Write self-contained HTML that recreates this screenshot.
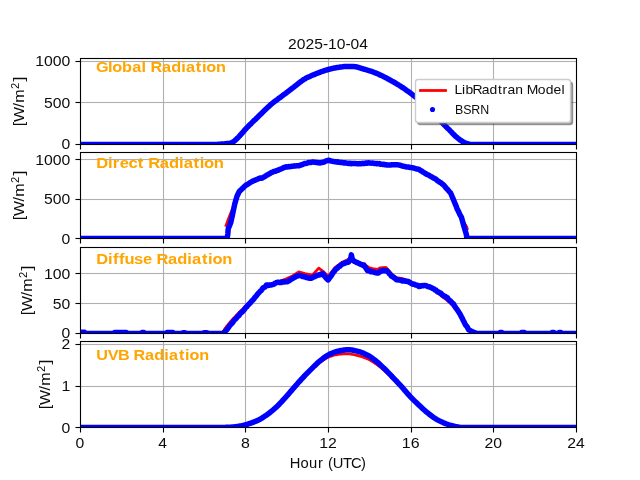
<!DOCTYPE html>
<html><head><meta charset="utf-8"><title>Radiation 2025-10-04</title>
<style>html,body{margin:0;padding:0;background:#fff}svg{display:block}text{font-family:"Liberation Sans",sans-serif}</style></head><body>
<svg width="640" height="480" viewBox="0 0 640 480">
<rect width="640" height="480" fill="#fff"/>
<defs>
<clipPath id="c0"><rect x="80.5" y="58.5" width="496" height="86"/></clipPath>
<clipPath id="c1"><rect x="80.5" y="152.5" width="496" height="86"/></clipPath>
<clipPath id="c2"><rect x="80.5" y="247.5" width="496" height="86"/></clipPath>
<clipPath id="c3"><rect x="80.5" y="341.5" width="496" height="86"/></clipPath>
<filter id="gs" filterUnits="userSpaceOnUse" x="0" y="0" width="640" height="480"><feOffset dx="0" dy="0"/></filter>
</defs>
<g>
<rect x="162.945" y="59" width="1.11" height="85" fill="#b0b0b0"/>
<rect x="244.945" y="59" width="1.11" height="85" fill="#b0b0b0"/>
<rect x="327.945" y="59" width="1.11" height="85" fill="#b0b0b0"/>
<rect x="410.945" y="59" width="1.11" height="85" fill="#b0b0b0"/>
<rect x="492.945" y="59" width="1.11" height="85" fill="#b0b0b0"/>
<rect x="81" y="60.945" width="495" height="1.11" fill="#b0b0b0"/>
<rect x="81" y="101.945" width="495" height="1.11" fill="#b0b0b0"/>
<g clip-path="url(#c0)" fill="none" stroke-linejoin="round">
<path d="M80.00 144.50 L81.00 144.50 L82.00 144.50 L83.00 144.50 L84.00 144.50 L85.00 144.50 L86.00 144.50 L87.00 144.50 L88.00 144.50 L89.00 144.50 L90.00 144.50 L91.00 144.50 L92.00 144.50 L93.00 144.50 L94.00 144.50 L95.00 144.50 L96.00 144.50 L97.00 144.50 L98.00 144.50 L99.00 144.50 L100.00 144.50 L101.00 144.50 L102.00 144.50 L103.00 144.50 L104.00 144.50 L105.00 144.50 L106.00 144.50 L107.00 144.50 L108.00 144.50 L109.00 144.50 L110.00 144.50 L111.00 144.50 L112.00 144.50 L113.00 144.50 L114.00 144.50 L115.00 144.50 L116.00 144.50 L117.00 144.50 L118.00 144.50 L119.00 144.50 L120.00 144.50 L121.00 144.50 L122.00 144.50 L123.00 144.50 L124.00 144.50 L125.00 144.50 L126.00 144.50 L127.00 144.50 L128.00 144.50 L129.00 144.50 L130.00 144.50 L131.00 144.50 L132.00 144.50 L133.00 144.50 L134.00 144.50 L135.00 144.50 L136.00 144.50 L137.00 144.50 L138.00 144.50 L139.00 144.50 L140.00 144.50 L141.00 144.50 L142.00 144.50 L143.00 144.50 L144.00 144.50 L145.00 144.50 L146.00 144.50 L147.00 144.50 L148.00 144.50 L149.00 144.50 L150.00 144.50 L151.00 144.50 L152.00 144.50 L153.00 144.50 L154.00 144.50 L155.00 144.50 L156.00 144.50 L157.00 144.50 L158.00 144.50 L159.00 144.50 L160.00 144.50 L161.00 144.50 L162.00 144.50 L163.00 144.50 L164.00 144.50 L165.00 144.50 L166.00 144.50 L167.00 144.50 L168.00 144.50 L169.00 144.50 L170.00 144.50 L171.00 144.50 L172.00 144.50 L173.00 144.50 L174.00 144.50 L175.00 144.50 L176.00 144.50 L177.00 144.50 L178.00 144.50 L179.00 144.50 L180.00 144.50 L181.00 144.50 L182.00 144.50 L183.00 144.50 L184.00 144.50 L185.00 144.50 L186.00 144.50 L187.00 144.50 L188.00 144.50 L189.00 144.50 L190.00 144.50 L191.00 144.50 L192.00 144.50 L193.00 144.50 L194.00 144.50 L195.00 144.50 L196.00 144.50 L197.00 144.50 L198.00 144.50 L199.00 144.50 L200.00 144.50 L201.00 144.50 L202.00 144.50 L203.00 144.50 L204.00 144.50 L205.00 144.50 L206.00 144.50 L207.00 144.50 L208.00 144.50 L209.00 144.50 L210.00 144.50 L211.00 144.50 L212.00 144.50 L213.00 144.50 L214.00 144.50 L215.00 144.49 L216.00 144.45 L217.00 144.39 L218.00 144.32 L219.00 144.25 L220.00 144.17 L221.00 144.10 L222.00 144.03 L223.00 143.96 L224.00 143.88 L225.00 143.79 L226.00 143.70 L227.00 143.60 L228.00 143.50 L229.00 143.37 L230.00 143.20 L231.00 142.90 L232.00 142.45 L233.00 141.90 L234.00 141.27 L235.00 140.47 L236.00 139.55 L237.00 138.60 L238.00 137.62 L239.00 136.58 L240.00 135.49 L241.00 134.37 L242.00 133.23 L243.00 132.08 L244.00 130.94 L245.00 129.82 L246.00 128.73 L247.00 127.68 L248.00 126.65 L249.00 125.64 L250.00 124.63 L251.00 123.63 L252.00 122.64 L253.00 121.66 L254.00 120.68 L255.00 119.71 L256.00 118.74 L257.00 117.77 L258.00 116.81 L259.00 115.84 L260.00 114.87 L261.00 113.89 L262.00 112.91 L263.00 111.93 L264.00 110.94 L265.00 109.97 L266.00 109.00 L267.00 108.04 L268.00 107.11 L269.00 106.19 L270.00 105.29 L271.00 104.42 L272.00 103.59 L273.00 102.78 L274.00 102.00 L275.00 101.23 L276.00 100.49 L277.00 99.75 L278.00 99.02 L279.00 98.29 L280.00 97.55 L281.00 96.80 L282.00 96.04 L283.00 95.29 L284.00 94.54 L285.00 93.78 L286.00 93.03 L287.00 92.28 L288.00 91.52 L289.00 90.76 L290.00 90.00 L291.00 89.23 L292.00 88.46 L293.00 87.68 L294.00 86.90 L295.00 86.12 L296.00 85.36 L297.00 84.60 L298.00 83.84 L299.00 83.06 L300.00 82.28 L301.00 81.52 L302.00 80.77 L303.00 80.06 L304.00 79.40 L305.00 78.80 L306.00 78.25 L307.00 77.72 L308.00 77.22 L309.00 76.74 L310.00 76.28 L311.00 75.83 L312.00 75.40 L313.00 74.98 L314.00 74.57 L315.00 74.17 L316.00 73.78 L317.00 73.39 L318.00 73.01 L319.00 72.63 L320.00 72.25 L321.00 71.88 L322.00 71.52 L323.00 71.17 L324.00 70.83 L325.00 70.50 L326.00 70.19 L327.00 69.89 L328.00 69.60 L329.00 69.33 L330.00 69.08 L331.00 68.83 L332.00 68.59 L333.00 68.36 L334.00 68.14 L335.00 67.93 L336.00 67.75 L337.00 67.58 L338.00 67.42 L339.00 67.27 L340.00 67.11 L341.00 66.96 L342.00 66.82 L343.00 66.70 L344.00 66.60 L345.00 66.53 L346.00 66.50 L347.00 66.50 L348.00 66.50 L349.00 66.50 L350.00 66.50 L351.00 66.50 L352.00 66.50 L353.00 66.51 L354.00 66.57 L355.00 66.69 L356.00 66.86 L357.00 67.07 L358.00 67.31 L359.00 67.59 L360.00 67.88 L361.00 68.18 L362.00 68.50 L363.00 68.81 L364.00 69.11 L365.00 69.40 L366.00 69.68 L367.00 69.98 L368.00 70.29 L369.00 70.61 L370.00 70.94 L371.00 71.28 L372.00 71.63 L373.00 72.00 L374.00 72.37 L375.00 72.75 L376.00 73.14 L377.00 73.55 L378.00 73.96 L379.00 74.39 L380.00 74.84 L381.00 75.31 L382.00 75.79 L383.00 76.28 L384.00 76.79 L385.00 77.31 L386.00 77.84 L387.00 78.37 L388.00 78.91 L389.00 79.45 L390.00 80.00 L391.00 80.55 L392.00 81.11 L393.00 81.68 L394.00 82.25 L395.00 82.84 L396.00 83.43 L397.00 84.03 L398.00 84.64 L399.00 85.26 L400.00 85.89 L401.00 86.53 L402.00 87.17 L403.00 87.83 L404.00 88.50 L405.00 89.18 L406.00 89.87 L407.00 90.57 L408.00 91.29 L409.00 92.01 L410.00 92.75 L411.00 93.49 L412.00 94.25 L413.00 95.02 L414.00 95.80 L415.00 96.58 L416.00 97.38 L417.00 98.19 L418.00 99.01 L419.00 99.85 L420.00 100.69 L421.00 101.54 L422.00 102.41 L423.00 103.28 L424.00 104.17 L425.00 105.06 L426.00 105.96 L427.00 106.88 L428.00 107.80 L429.00 108.74 L430.00 109.69 L431.00 110.66 L432.00 111.65 L433.00 112.65 L434.00 113.67 L435.00 114.70 L436.00 115.74 L437.00 116.80 L438.00 117.89 L439.00 119.02 L440.00 120.17 L441.00 121.33 L442.00 122.48 L443.00 123.59 L444.00 124.66 L445.00 125.69 L446.00 126.68 L447.00 127.66 L448.00 128.64 L449.00 129.61 L450.00 130.60 L451.00 131.62 L452.00 132.68 L453.00 133.74 L454.00 134.77 L455.00 135.76 L456.00 136.68 L457.00 137.53 L458.00 138.34 L459.00 139.12 L460.00 139.86 L461.00 140.55 L462.00 141.20 L463.00 141.80 L464.00 142.37 L465.00 142.89 L466.00 143.30 L467.00 143.62 L468.00 143.89 L469.00 144.10 L470.00 144.28 L471.00 144.44 L472.00 144.50 L473.00 144.50 L474.00 144.50 L475.00 144.50 L476.00 144.50 L477.00 144.50 L478.00 144.50 L479.00 144.50 L480.00 144.50 L481.00 144.50 L482.00 144.50 L483.00 144.50 L484.00 144.50 L485.00 144.50 L486.00 144.50 L487.00 144.50 L488.00 144.50 L489.00 144.50 L490.00 144.50 L491.00 144.50 L492.00 144.50 L493.00 144.50 L494.00 144.50 L495.00 144.50 L496.00 144.50 L497.00 144.50 L498.00 144.50 L499.00 144.50 L500.00 144.50 L501.00 144.50 L502.00 144.50 L503.00 144.50 L504.00 144.50 L505.00 144.50 L506.00 144.50 L507.00 144.50 L508.00 144.50 L509.00 144.50 L510.00 144.50 L511.00 144.50 L512.00 144.50 L513.00 144.50 L514.00 144.50 L515.00 144.50 L516.00 144.50 L517.00 144.50 L518.00 144.50 L519.00 144.50 L520.00 144.50 L521.00 144.50 L522.00 144.50 L523.00 144.50 L524.00 144.50 L525.00 144.50 L526.00 144.50 L527.00 144.50 L528.00 144.50 L529.00 144.50 L530.00 144.50 L531.00 144.50 L532.00 144.50 L533.00 144.50 L534.00 144.50 L535.00 144.50 L536.00 144.50 L537.00 144.50 L538.00 144.50 L539.00 144.50 L540.00 144.50 L541.00 144.50 L542.00 144.50 L543.00 144.50 L544.00 144.50 L545.00 144.50 L546.00 144.50 L547.00 144.50 L548.00 144.50 L549.00 144.50 L550.00 144.50 L551.00 144.50 L552.00 144.50 L553.00 144.50 L554.00 144.50 L555.00 144.50 L556.00 144.50 L557.00 144.50 L558.00 144.50 L559.00 144.50 L560.00 144.50 L561.00 144.50 L562.00 144.50 L563.00 144.50 L564.00 144.50 L565.00 144.50 L566.00 144.50 L567.00 144.50 L568.00 144.50 L569.00 144.50 L570.00 144.50 L571.00 144.50 L572.00 144.50 L573.00 144.50 L574.00 144.50 L575.00 144.50 L576.00 144.50" stroke="#ff0000" stroke-width="2.78" stroke-linecap="butt"/>
<path d="M80.00 144.50 L81.00 144.50 L82.00 144.50 L83.00 144.50 L84.00 144.50 L85.00 144.50 L86.00 144.50 L87.00 144.50 L88.00 144.50 L89.00 144.50 L90.00 144.50 L91.00 144.50 L92.00 144.50 L93.00 144.50 L94.00 144.50 L95.00 144.50 L96.00 144.50 L97.00 144.50 L98.00 144.50 L99.00 144.50 L100.00 144.50 L101.00 144.50 L102.00 144.50 L103.00 144.50 L104.00 144.50 L105.00 144.50 L106.00 144.50 L107.00 144.50 L108.00 144.50 L109.00 144.50 L110.00 144.50 L111.00 144.50 L112.00 144.50 L113.00 144.50 L114.00 144.50 L115.00 144.50 L116.00 144.50 L117.00 144.50 L118.00 144.50 L119.00 144.50 L120.00 144.50 L121.00 144.50 L122.00 144.50 L123.00 144.50 L124.00 144.50 L125.00 144.50 L126.00 144.50 L127.00 144.50 L128.00 144.50 L129.00 144.50 L130.00 144.50 L131.00 144.50 L132.00 144.50 L133.00 144.50 L134.00 144.50 L135.00 144.50 L136.00 144.50 L137.00 144.50 L138.00 144.50 L139.00 144.50 L140.00 144.50 L141.00 144.50 L142.00 144.50 L143.00 144.50 L144.00 144.50 L145.00 144.50 L146.00 144.50 L147.00 144.50 L148.00 144.50 L149.00 144.50 L150.00 144.50 L151.00 144.50 L152.00 144.50 L153.00 144.50 L154.00 144.50 L155.00 144.50 L156.00 144.50 L157.00 144.50 L158.00 144.50 L159.00 144.50 L160.00 144.50 L161.00 144.50 L162.00 144.50 L163.00 144.50 L164.00 144.50 L165.00 144.50 L166.00 144.50 L167.00 144.50 L168.00 144.50 L169.00 144.50 L170.00 144.50 L171.00 144.50 L172.00 144.50 L173.00 144.50 L174.00 144.50 L175.00 144.50 L176.00 144.50 L177.00 144.50 L178.00 144.50 L179.00 144.50 L180.00 144.50 L181.00 144.50 L182.00 144.50 L183.00 144.50 L184.00 144.50 L185.00 144.50 L186.00 144.50 L187.00 144.50 L188.00 144.50 L189.00 144.50 L190.00 144.50 L191.00 144.50 L192.00 144.50 L193.00 144.50 L194.00 144.50 L195.00 144.50 L196.00 144.50 L197.00 144.50 L198.00 144.50 L199.00 144.50 L200.00 144.50 L201.00 144.50 L202.00 144.50 L203.00 144.50 L204.00 144.50 L205.00 144.50 L206.00 144.50 L207.00 144.50 L208.00 144.50 L209.00 144.50 L210.00 144.50 L211.00 144.50 L212.00 144.50 L213.00 144.50 L214.00 144.50 L215.00 144.49 L216.00 144.45 L217.00 144.39 L218.00 144.32 L219.00 144.25 L220.00 144.17 L221.00 144.10 L222.00 144.03 L223.00 143.96 L224.00 143.88 L225.00 143.79 L226.00 143.70 L227.00 143.60 L228.00 143.50 L229.00 143.37 L230.00 143.20 L231.00 142.90 L232.00 142.51 L232.50 142.19 L233.00 141.90 L233.50 141.59 L234.00 141.25 L234.50 140.86 L235.00 140.44 L235.50 139.96 L236.00 139.57 L236.50 139.11 L237.00 138.58 L237.50 138.10 L238.00 137.63 L238.50 137.10 L239.00 136.54 L239.50 135.99 L240.00 135.49 L240.50 134.95 L241.00 134.35 L241.50 133.78 L242.00 133.27 L242.50 132.69 L243.00 132.11 L243.50 131.58 L244.00 130.95 L244.50 130.31 L245.00 129.72 L245.50 129.19 L246.00 128.72 L246.50 128.19 L247.00 127.66 L247.50 127.16 L248.00 126.62 L248.50 126.09 L249.00 125.55 L249.50 125.04 L250.00 124.60 L250.50 124.20 L251.00 123.72 L251.50 123.18 L252.00 122.67 L252.50 122.17 L253.00 121.66 L253.50 121.12 L254.00 120.56 L254.50 120.10 L255.00 119.73 L255.50 119.33 L256.00 118.79 L256.50 118.28 L257.00 117.84 L257.50 117.34 L258.00 116.82 L258.50 116.33 L259.00 115.84 L259.50 115.31 L260.00 114.82 L260.50 114.37 L261.00 113.92 L261.50 113.44 L262.00 112.88 L262.50 112.33 L263.00 111.92 L263.50 111.49 L264.00 110.94 L264.50 110.39 L265.00 109.88 L265.50 109.41 L266.00 108.94 L266.50 108.50 L267.00 108.07 L267.50 107.60 L268.00 107.13 L268.50 106.74 L269.00 106.27 L269.50 105.77 L270.00 105.32 L270.50 104.89 L271.00 104.39 L271.50 103.94 L272.00 103.59 L272.50 103.24 L273.00 102.79 L273.50 102.35 L274.00 101.96 L274.50 101.58 L275.00 101.24 L275.50 100.94 L276.00 100.59 L276.50 100.19 L277.00 99.80 L277.50 99.42 L278.00 99.03 L278.50 98.64 L279.00 98.26 L279.50 97.95 L280.00 97.66 L280.50 97.25 L281.00 96.79 L281.50 96.38 L282.00 96.01 L282.50 95.67 L283.00 95.28 L283.50 94.87 L284.00 94.52 L284.50 94.18 L285.00 93.83 L285.50 93.48 L286.00 93.09 L286.50 92.66 L287.00 92.26 L287.50 91.93 L288.00 91.58 L288.50 91.16 L289.00 90.73 L289.50 90.36 L290.00 90.00 L290.50 89.59 L291.00 89.23 L291.50 88.89 L292.00 88.46 L292.50 88.04 L293.00 87.69 L293.50 87.30 L294.00 86.91 L294.50 86.55 L295.00 86.16 L295.50 85.78 L296.00 85.41 L296.50 85.00 L297.00 84.57 L297.50 84.18 L298.00 83.82 L298.50 83.43 L299.00 82.99 L299.50 82.58 L300.00 82.22 L300.50 81.81 L301.00 81.42 L301.50 81.10 L302.00 80.76 L302.50 80.41 L303.00 80.03 L303.50 79.65 L304.00 79.32 L304.50 79.05 L305.00 78.76 L305.50 78.48 L306.00 78.19 L306.50 77.92 L307.00 77.66 L307.50 77.40 L308.00 77.19 L308.50 77.03 L309.00 76.83 L309.50 76.57 L310.00 76.26 L310.50 76.08 L311.00 75.91 L311.50 75.66 L312.00 75.39 L312.50 75.22 L313.00 75.03 L313.50 74.76 L314.00 74.58 L314.50 74.41 L315.00 74.18 L315.50 73.96 L316.00 73.73 L316.50 73.52 L317.00 73.35 L317.50 73.19 L318.00 73.03 L318.50 72.84 L319.00 72.61 L319.50 72.44 L320.00 72.30 L320.50 72.08 L321.00 71.86 L321.50 71.69 L322.00 71.52 L322.50 71.36 L323.00 71.22 L323.50 71.06 L324.00 70.82 L324.50 70.57 L325.00 70.42 L325.50 70.34 L326.00 70.21 L326.50 70.08 L327.00 69.90 L327.50 69.74 L328.00 69.61 L328.50 69.42 L329.00 69.28 L329.50 69.21 L330.00 69.05 L330.50 68.96 L331.00 68.88 L331.50 68.70 L332.00 68.54 L332.50 68.45 L333.00 68.29 L333.50 68.16 L334.00 68.11 L334.50 68.07 L335.00 67.98 L335.50 67.87 L336.00 67.74 L336.50 67.62 L337.00 67.52 L337.50 67.48 L338.00 67.44 L338.50 67.36 L339.00 67.27 L339.50 67.16 L340.00 67.08 L340.50 67.02 L341.00 66.96 L341.50 66.91 L342.00 66.87 L342.50 66.83 L343.00 66.72 L343.50 66.61 L344.00 66.55 L344.50 66.56 L345.00 66.55 L345.50 66.50 L346.00 66.50 L346.50 66.53 L347.00 66.50 L347.50 66.50 L348.00 66.53 L348.50 66.53 L349.00 66.54 L349.50 66.58 L350.00 66.56 L350.50 66.50 L351.00 66.48 L351.50 66.50 L352.00 66.46 L352.50 66.45 L353.00 66.52 L353.50 66.58 L354.00 66.58 L354.50 66.62 L355.00 66.71 L355.50 66.77 L356.00 66.81 L356.50 66.90 L357.00 67.03 L357.50 67.17 L358.00 67.31 L358.50 67.46 L359.00 67.62 L359.50 67.76 L360.00 67.86 L360.50 67.98 L361.00 68.18 L361.50 68.39 L362.00 68.58 L362.50 68.67 L363.00 68.76 L363.50 68.97 L364.00 69.18 L364.50 69.28 L365.00 69.39 L365.50 69.53 L366.00 69.68 L366.50 69.85 L367.00 70.02 L367.50 70.20 L368.00 70.32 L368.50 70.44 L369.00 70.64 L369.50 70.81 L370.00 70.93 L370.50 71.04 L371.00 71.20 L371.50 71.44 L372.00 71.59 L372.50 71.68 L373.00 71.88 L373.50 72.15 L374.00 72.39 L374.50 72.58 L375.00 72.75 L375.50 72.89 L376.00 73.09 L376.50 73.36 L377.00 73.58 L377.50 73.79 L378.00 73.99 L378.50 74.15 L379.00 74.37 L379.50 74.68 L380.00 74.93 L380.50 75.14 L381.00 75.36 L381.50 75.56 L382.00 75.79 L382.50 76.00 L383.00 76.22 L383.50 76.54 L384.00 76.83 L384.50 77.06 L385.00 77.33 L385.50 77.60 L386.00 77.79 L386.50 78.01 L387.00 78.29 L387.50 78.61 L388.00 78.95 L388.50 79.21 L389.00 79.41 L389.50 79.74 L390.00 80.09 L390.50 80.29 L391.00 80.51 L391.50 80.84 L392.00 81.14 L392.50 81.40 L393.00 81.62 L393.50 81.91 L394.00 82.25 L394.50 82.52 L395.00 82.79 L395.50 83.16 L396.00 83.48 L396.50 83.73 L397.00 84.02 L397.50 84.33 L398.00 84.59 L398.50 84.89 L399.00 85.22 L399.50 85.53 L400.00 85.85 L400.50 86.16 L401.00 86.49 L401.50 86.88 L402.00 87.22 L402.50 87.47 L403.00 87.74 L403.50 88.09 L404.00 88.43 L404.50 88.80 L405.00 89.20 L405.50 89.60 L406.00 89.94 L406.50 90.28 L407.00 90.70 L407.50 91.06 L408.00 91.27 L408.50 91.55 L409.00 91.96 L409.50 92.33 L410.00 92.66 L410.50 93.07 L411.00 93.47 L411.50 93.85 L412.00 94.28 L412.50 94.68 L413.00 95.02 L413.50 95.39 L414.00 95.76 L414.50 96.15 L415.00 96.58 L415.50 96.99 L416.00 97.33 L416.50 97.70 L417.00 98.14 L417.50 98.55 L418.00 99.02 L418.50 99.50 L419.00 99.86 L419.50 100.19 L420.00 100.63 L420.50 101.13 L421.00 101.58 L421.50 102.01 L422.00 102.45 L422.50 102.85 L423.00 103.25 L423.50 103.62 L424.00 103.99 L424.50 104.49 L425.00 105.02 L425.50 105.51 L426.00 105.97 L426.50 106.43 L427.00 106.90 L427.50 107.36 L428.00 107.77 L428.50 108.21 L429.00 108.69 L429.50 109.22 L430.00 109.72 L430.50 110.23 L431.00 110.76 L431.50 111.23 L432.00 111.68 L432.50 112.15 L433.00 112.62 L433.50 113.15 L434.00 113.65 L434.50 114.15 L435.00 114.71 L435.50 115.23 L436.00 115.75 L436.50 116.29 L437.00 116.86 L437.50 117.40 L438.00 117.85 L438.50 118.37 L439.00 119.00 L439.50 119.62 L440.00 120.16 L440.50 120.73 L441.00 121.28 L441.50 121.79 L442.00 122.37 L442.50 122.97 L443.00 123.56 L443.50 124.08 L444.00 124.60 L444.50 125.11 L445.00 125.62 L445.50 126.14 L446.00 126.65 L446.50 127.13 L447.00 127.65 L447.50 128.17 L448.00 128.66 L448.50 129.15 L449.00 129.62 L449.50 130.09 L450.00 130.61 L450.50 131.14 L451.00 131.63 L451.50 132.13 L452.00 132.67 L452.50 133.27 L453.00 133.82 L453.50 134.28 L454.00 134.77 L454.50 135.28 L455.00 135.80 L455.50 136.28 L456.00 136.68 L456.50 137.00 L457.00 137.43 L457.50 137.88 L458.00 138.30 L458.50 138.69 L459.00 139.09 L459.50 139.54 L460.00 139.89 L460.50 140.12 L461.00 140.49 L461.50 140.88 L462.00 141.20 L462.50 141.46 L463.00 141.72 L463.50 142.03 L464.00 142.40 L464.50 142.69 L465.00 142.90 L465.50 143.06 L466.00 143.28 L466.50 143.46 L467.00 143.64 L467.50 143.76 L468.00 143.87 L468.50 143.97 L469.00 144.07 L469.50 144.20 L471.00 144.44 L472.00 144.50 L473.00 144.50 L474.00 144.50 L475.00 144.50 L476.00 144.50 L477.00 144.50 L478.00 144.50 L479.00 144.50 L480.00 144.50 L481.00 144.50 L482.00 144.50 L483.00 144.50 L484.00 144.50 L485.00 144.50 L486.00 144.50 L487.00 144.50 L488.00 144.50 L489.00 144.50 L490.00 144.50 L491.00 144.50 L492.00 144.50 L493.00 144.50 L494.00 144.50 L495.00 144.50 L496.00 144.50 L497.00 144.50 L498.00 144.50 L499.00 144.50 L500.00 144.50 L501.00 144.50 L502.00 144.50 L503.00 144.50 L504.00 144.50 L505.00 144.50 L506.00 144.50 L507.00 144.50 L508.00 144.50 L509.00 144.50 L510.00 144.50 L511.00 144.50 L512.00 144.50 L513.00 144.50 L514.00 144.50 L515.00 144.50 L516.00 144.50 L517.00 144.50 L518.00 144.50 L519.00 144.50 L520.00 144.50 L521.00 144.50 L522.00 144.50 L523.00 144.50 L524.00 144.50 L525.00 144.50 L526.00 144.50 L527.00 144.50 L528.00 144.50 L529.00 144.50 L530.00 144.50 L531.00 144.50 L532.00 144.50 L533.00 144.50 L534.00 144.50 L535.00 144.50 L536.00 144.50 L537.00 144.50 L538.00 144.50 L539.00 144.50 L540.00 144.50 L541.00 144.50 L542.00 144.50 L543.00 144.50 L544.00 144.50 L545.00 144.50 L546.00 144.50 L547.00 144.50 L548.00 144.50 L549.00 144.50 L550.00 144.50 L551.00 144.50 L552.00 144.50 L553.00 144.50 L554.00 144.50 L555.00 144.50 L556.00 144.50 L557.00 144.50 L558.00 144.50 L559.00 144.50 L560.00 144.50 L561.00 144.50 L562.00 144.50 L563.00 144.50 L564.00 144.50 L565.00 144.50 L566.00 144.50 L567.00 144.50 L568.00 144.50 L569.00 144.50 L570.00 144.50 L571.00 144.50 L572.00 144.50 L573.00 144.50 L574.00 144.50 L575.00 144.50 L576.00 144.50" stroke="#0000ff" stroke-width="5.5" stroke-linecap="round"/>
</g>
<rect x="79.945" y="145" width="1.11" height="4.5" fill="#000"/>
<rect x="162.945" y="145" width="1.11" height="4.5" fill="#000"/>
<rect x="244.945" y="145" width="1.11" height="4.5" fill="#000"/>
<rect x="327.945" y="145" width="1.11" height="4.5" fill="#000"/>
<rect x="410.945" y="145" width="1.11" height="4.5" fill="#000"/>
<rect x="492.945" y="145" width="1.11" height="4.5" fill="#000"/>
<rect x="575.945" y="145" width="1.11" height="4.5" fill="#000"/>
<rect x="75.5" y="60.945" width="4.5" height="1.11" fill="#000"/>
<rect x="75.5" y="101.945" width="4.5" height="1.11" fill="#000"/>
<rect x="75.5" y="143.945" width="4.5" height="1.11" fill="#000"/>
<rect x="80" y="57.945" width="497" height="1.11" fill="#000"/>
<rect x="80" y="143.945" width="497" height="1.11" fill="#000"/>
<rect x="79.945" y="58" width="1.11" height="87" fill="#000"/>
<rect x="575.945" y="58" width="1.11" height="87" fill="#000"/>
</g>
<g>
<rect x="162.945" y="153" width="1.11" height="85" fill="#b0b0b0"/>
<rect x="244.945" y="153" width="1.11" height="85" fill="#b0b0b0"/>
<rect x="327.945" y="153" width="1.11" height="85" fill="#b0b0b0"/>
<rect x="410.945" y="153" width="1.11" height="85" fill="#b0b0b0"/>
<rect x="492.945" y="153" width="1.11" height="85" fill="#b0b0b0"/>
<rect x="81" y="158.945" width="495" height="1.11" fill="#b0b0b0"/>
<rect x="81" y="198.945" width="495" height="1.11" fill="#b0b0b0"/>
<g clip-path="url(#c1)" fill="none" stroke-linejoin="round">
<path d="M225.60 226.80 L228.60 218.50 L231.20 212.00 L234.80 203.75 L237.00 196.25 L239.30 191.50 L245.50 185.50 L252.50 181.25 L260.00 178.10 L262.50 178.10 L271.25 172.50 L278.75 170.00 L285.00 167.20 L292.50 166.10 L298.75 165.60 L305.00 163.50 L312.50 161.90 L320.00 162.90 L323.75 162.10 L328.10 160.25 L333.75 161.50 L342.50 162.75 L350.00 163.50 L357.50 163.75 L368.75 163.00 L378.75 163.75 L387.50 165.00 L397.50 164.75 L406.25 166.90 L412.50 167.75 L418.75 169.40 L425.00 173.30 L430.00 175.80 L436.20 179.50 L443.30 184.80 L450.40 192.70 L453.90 200.70 L457.50 209.60 L461.90 218.40 L465.10 224.30 L466.70 226.90 L467.50 230.00" stroke="#ff0000" stroke-width="2.78" stroke-linecap="butt"/>
<path d="M80.00 238.50 L227.20 238.50 L227.80 234.00 L228.20 229.00 L230.80 222.50 L232.70 213.75 L234.80 203.75 L237.00 196.25 L239.30 191.50 L245.50 185.56 L246.00 185.16 L246.50 184.83 L247.00 184.57 L247.50 184.38 L248.00 184.11 L248.50 183.75 L249.00 183.44 L249.50 183.05 L250.00 182.66 L250.50 182.37 L251.00 182.10 L251.50 181.83 L252.00 181.52 L252.50 181.24 L253.00 181.13 L253.50 180.94 L254.00 180.55 L254.50 180.28 L255.00 180.26 L255.50 180.13 L256.00 179.76 L256.50 179.45 L257.00 179.40 L257.50 179.22 L258.00 178.86 L258.50 178.67 L259.00 178.47 L259.50 178.24 L260.00 178.04 L260.50 178.01 L261.00 178.13 L261.50 178.25 L262.00 178.14 L262.50 177.94 L263.00 177.51 L263.50 177.16 L264.00 176.98 L264.50 176.87 L265.00 176.50 L265.50 176.01 L266.00 175.63 L266.50 175.36 L267.00 175.07 L267.50 174.84 L268.00 174.64 L268.50 174.23 L269.00 173.84 L269.50 173.68 L270.00 173.52 L270.50 173.15 L271.00 172.69 L271.50 172.42 L272.00 172.30 L272.50 172.15 L273.00 171.92 L273.50 171.61 L274.00 171.43 L274.50 171.32 L275.00 171.21 L275.50 171.16 L276.00 170.94 L276.50 170.64 L277.00 170.48 L277.50 170.35 L278.00 170.26 L278.50 170.10 L279.00 169.71 L279.50 169.43 L280.00 169.37 L280.50 169.22 L281.00 169.02 L281.50 168.81 L282.00 168.59 L282.50 168.35 L283.00 168.05 L283.50 167.80 L284.00 167.52 L284.50 167.31 L285.00 167.23 L285.50 167.12 L286.00 166.84 L286.50 166.79 L287.00 166.93 L287.50 166.92 L288.00 166.74 L288.50 166.57 L289.00 166.59 L289.50 166.74 L290.00 166.68 L290.50 166.53 L291.00 166.47 L291.50 166.40 L292.00 166.26 L292.50 166.13 L293.00 166.12 L293.50 166.13 L294.00 166.07 L294.50 165.91 L295.00 165.84 L295.50 165.96 L296.00 165.98 L296.50 165.82 L297.00 165.67 L297.50 165.63 L298.00 165.70 L298.50 165.82 L299.00 165.75 L299.50 165.53 L300.00 165.24 L300.50 165.03 L301.00 165.01 L301.50 164.92 L302.00 164.64 L302.50 164.42 L303.00 164.26 L303.50 164.06 L304.00 163.86 L304.50 163.59 L305.00 163.40 L305.50 163.42 L306.00 163.44 L306.50 163.37 L307.00 163.14 L307.50 162.90 L308.00 162.66 L308.50 162.43 L309.00 162.41 L309.50 162.44 L310.00 162.40 L310.50 162.45 L311.00 162.40 L311.50 162.23 L312.00 162.16 L312.50 162.06 L313.00 162.07 L313.50 162.11 L314.00 162.14 L314.50 162.15 L315.00 162.23 L315.50 162.28 L316.00 162.36 L316.50 162.50 L317.00 162.54 L317.50 162.60 L318.00 162.74 L318.50 162.75 L319.00 162.70 L319.50 162.85 L320.00 162.96 L320.50 162.77 L321.00 162.62 L321.50 162.54 L322.00 162.54 L322.50 162.41 L323.00 162.30 L323.50 162.26 L324.00 162.07 L324.50 161.78 L325.00 161.47 L325.50 161.18 L326.00 160.97 L326.50 160.89 L327.00 160.82 L327.50 160.62 L328.00 160.34 L328.50 160.24 L329.00 160.29 L329.50 160.50 L330.00 160.72 L330.50 160.84 L331.00 160.94 L331.50 161.05 L332.00 161.13 L332.50 161.28 L333.00 161.43 L333.50 161.46 L334.00 161.60 L334.50 161.78 L335.00 161.80 L335.50 161.79 L336.00 161.89 L336.50 161.94 L337.00 161.79 L337.50 161.77 L338.00 162.03 L338.50 162.30 L339.00 162.35 L339.50 162.25 L340.00 162.27 L340.50 162.44 L341.00 162.53 L341.50 162.47 L342.00 162.45 L342.50 162.58 L343.00 162.78 L343.50 162.89 L344.00 162.91 L344.50 162.85 L345.00 162.83 L345.50 162.92 L346.00 163.01 L346.50 163.13 L347.00 163.21 L347.50 163.16 L348.00 163.22 L348.50 163.41 L349.00 163.45 L349.50 163.26 L350.00 163.18 L350.50 163.40 L351.00 163.65 L351.50 163.66 L352.00 163.52 L352.50 163.47 L353.00 163.57 L353.50 163.62 L354.00 163.56 L354.50 163.54 L355.00 163.59 L355.50 163.59 L356.00 163.58 L356.50 163.65 L357.00 163.69 L357.50 163.73 L358.00 163.81 L358.50 163.74 L359.00 163.59 L359.50 163.66 L360.00 163.67 L360.50 163.62 L361.00 163.65 L361.50 163.63 L362.00 163.55 L362.50 163.38 L363.00 163.33 L363.50 163.53 L364.00 163.61 L364.50 163.49 L365.00 163.34 L365.50 163.15 L366.00 163.02 L366.50 163.14 L367.00 163.16 L367.50 162.95 L368.00 162.82 L368.50 162.81 L369.00 162.98 L369.50 163.09 L370.00 163.00 L370.50 163.10 L371.00 163.27 L371.50 163.20 L372.00 163.06 L372.50 163.00 L373.00 163.10 L373.50 163.30 L374.00 163.41 L374.50 163.54 L375.00 163.57 L375.50 163.46 L376.00 163.50 L376.50 163.64 L377.00 163.68 L377.50 163.61 L378.00 163.59 L378.50 163.70 L379.00 163.64 L379.50 163.57 L380.00 163.78 L380.50 164.11 L381.00 164.28 L381.50 164.14 L382.00 164.17 L382.50 164.43 L383.00 164.46 L383.50 164.36 L384.00 164.34 L384.50 164.49 L385.00 164.72 L385.50 164.73 L386.00 164.70 L386.50 164.86 L387.00 165.03 L387.50 165.05 L388.00 165.03 L388.50 165.04 L389.00 164.96 L389.50 164.91 L390.00 165.04 L390.50 165.11 L391.00 164.94 L391.50 164.75 L392.00 164.73 L392.50 164.82 L393.00 164.84 L393.50 164.83 L394.00 164.76 L394.50 164.72 L395.00 164.83 L395.50 164.86 L396.00 164.80 L396.50 164.84 L397.00 164.87 L397.50 164.76 L398.00 164.85 L398.50 165.05 L399.00 165.10 L399.50 165.08 L400.00 165.18 L400.50 165.36 L401.00 165.48 L401.50 165.65 L402.00 165.88 L402.50 166.05 L403.00 166.22 L403.50 166.28 L404.00 166.31 L404.50 166.39 L405.00 166.56 L405.50 166.75 L406.00 166.85 L406.50 166.94 L407.00 167.07 L407.50 167.10 L408.00 167.03 L408.50 167.06 L409.00 167.25 L409.50 167.39 L410.00 167.41 L410.50 167.40 L411.00 167.43 L411.50 167.56 L412.00 167.69 L412.50 167.74 L413.00 167.84 L413.50 167.98 L414.00 168.17 L414.50 168.28 L415.00 168.39 L415.50 168.62 L416.00 168.83 L416.50 168.92 L417.00 168.96 L417.50 168.99 L418.00 169.12 L418.50 169.25 L419.00 169.37 L419.50 169.71 L420.00 170.17 L420.50 170.56 L421.00 170.80 L421.50 170.95 L422.00 171.21 L422.50 171.61 L423.00 172.03 L423.50 172.36 L424.00 172.63 L424.50 172.90 L425.00 173.29 L425.50 173.58 L426.00 173.74 L426.50 174.08 L427.00 174.48 L427.50 174.66 L428.00 174.81 L428.50 175.06 L429.00 175.26 L429.50 175.59 L430.00 176.04 L430.50 176.27 L431.00 176.36 L431.50 176.77 L432.00 177.19 L432.50 177.35 L433.00 177.66 L433.50 178.02 L434.00 178.23 L434.50 178.50 L435.00 178.71 L435.50 178.91 L436.00 179.31 L436.50 179.77 L437.00 180.28 L437.50 180.75 L438.00 180.99 L438.50 181.24 L439.00 181.63 L439.50 182.05 L440.00 182.38 L440.50 182.56 L441.00 182.80 L441.50 183.23 L442.00 183.79 L442.50 184.20 L443.00 184.48 L443.50 184.89 L444.00 185.44 L444.50 186.00 L445.00 186.59 L445.50 187.25 L446.00 187.93 L446.50 188.42 L447.00 188.83 L447.50 189.44 L448.00 190.14 L448.50 190.70 L449.00 191.23 L449.50 191.86 L450.00 192.38 L450.50 192.85 L451.00 193.86 L451.50 195.04 L452.00 196.30 L452.50 197.46 L453.00 198.52 L453.50 199.71 L454.00 200.97 L454.50 202.18 L455.00 203.42 L455.50 204.70 L456.00 205.79 L456.50 207.08 L457.00 208.53 L457.50 209.66 L458.00 210.50 L458.50 211.50 L459.00 212.59 L459.50 213.70 L460.00 214.74 L460.50 215.68 L461.00 216.53 L461.50 217.44 L463.70 225.50 L466.30 234.30 L467.00 238.50 L576.00 238.50" stroke="#0000ff" stroke-width="5.5" stroke-linecap="round"/>
</g>
<rect x="79.945" y="239" width="1.11" height="4.5" fill="#000"/>
<rect x="162.945" y="239" width="1.11" height="4.5" fill="#000"/>
<rect x="244.945" y="239" width="1.11" height="4.5" fill="#000"/>
<rect x="327.945" y="239" width="1.11" height="4.5" fill="#000"/>
<rect x="410.945" y="239" width="1.11" height="4.5" fill="#000"/>
<rect x="492.945" y="239" width="1.11" height="4.5" fill="#000"/>
<rect x="575.945" y="239" width="1.11" height="4.5" fill="#000"/>
<rect x="75.5" y="158.945" width="4.5" height="1.11" fill="#000"/>
<rect x="75.5" y="198.945" width="4.5" height="1.11" fill="#000"/>
<rect x="75.5" y="237.945" width="4.5" height="1.11" fill="#000"/>
<rect x="80" y="151.945" width="497" height="1.11" fill="#000"/>
<rect x="80" y="237.945" width="497" height="1.11" fill="#000"/>
<rect x="79.945" y="152" width="1.11" height="87" fill="#000"/>
<rect x="575.945" y="152" width="1.11" height="87" fill="#000"/>
</g>
<g>
<rect x="162.945" y="248" width="1.11" height="85" fill="#b0b0b0"/>
<rect x="244.945" y="248" width="1.11" height="85" fill="#b0b0b0"/>
<rect x="327.945" y="248" width="1.11" height="85" fill="#b0b0b0"/>
<rect x="410.945" y="248" width="1.11" height="85" fill="#b0b0b0"/>
<rect x="492.945" y="248" width="1.11" height="85" fill="#b0b0b0"/>
<rect x="81" y="272.945" width="495" height="1.11" fill="#b0b0b0"/>
<rect x="81" y="302.945" width="495" height="1.11" fill="#b0b0b0"/>
<g clip-path="url(#c2)" fill="none" stroke-linejoin="round">
<path d="M222.50 333.50 L224.90 328.60 L231.10 320.85 L239.10 312.50 L246.80 305.10 L255.60 296.20 L263.20 287.80 L266.60 285.10 L271.25 284.60 L277.50 282.30 L286.25 278.75 L292.50 276.00 L298.75 271.90 L305.00 273.50 L312.50 275.00 L318.75 268.10 L323.75 271.90 L328.10 276.25 L335.00 267.50 L342.50 262.00 L350.00 258.75 L352.50 259.50 L357.50 262.00 L363.75 264.00 L368.75 267.50 L372.50 268.50 L377.50 269.40 L380.00 267.80 L386.00 267.50 L391.25 273.50 L396.25 277.50 L402.50 278.50 L408.75 281.00 L413.75 284.40 L419.00 286.20 L425.30 285.40 L431.60 288.50 L439.40 294.50 L447.20 300.50 L453.40 306.00 L459.70 313.60 L464.40 322.90 L469.00 330.00 L473.75 332.50 L477.00 333.50" stroke="#ff0000" stroke-width="2.78" stroke-linecap="butt"/>
<path d="M80.00 333.50 L80.50 333.50 L81.50 332.30 L84.50 332.30 L85.50 333.50 L113.50 333.50 L114.50 332.60 L126.50 332.60 L127.50 333.50 L141.00 333.50 L142.00 332.60 L144.00 332.60 L145.00 333.50 L166.00 333.50 L167.00 332.60 L173.00 332.60 L174.00 333.50 L182.00 333.50 L183.00 332.70 L185.00 332.70 L186.00 333.50 L203.00 333.50 L204.00 332.70 L207.00 332.70 L208.00 333.50 L223.00 333.50 L223.25 333.30 L226.40 330.17 L226.90 329.72 L227.40 329.02 L227.90 328.24 L228.40 327.57 L228.90 326.85 L229.40 326.09 L229.90 325.37 L230.40 324.83 L230.90 324.32 L231.40 323.76 L231.90 323.34 L232.40 322.92 L232.90 322.21 L233.40 321.32 L233.90 320.57 L234.40 319.97 L234.90 319.46 L235.40 319.07 L235.90 318.65 L236.40 318.09 L236.90 317.52 L237.40 316.94 L237.90 316.29 L238.40 315.81 L238.90 315.55 L239.40 314.94 L239.90 314.02 L240.40 313.34 L240.90 312.88 L241.40 312.55 L241.90 312.23 L242.40 311.74 L242.90 311.17 L243.40 310.63 L243.90 310.05 L244.40 309.42 L244.90 308.75 L245.40 307.95 L245.90 307.22 L246.40 306.95 L246.90 306.65 L247.40 305.87 L247.90 305.24 L248.40 304.86 L248.90 304.23 L249.40 303.66 L249.90 303.31 L250.40 302.77 L250.90 302.05 L251.40 301.37 L251.90 300.86 L252.40 300.39 L252.90 299.91 L253.40 299.44 L253.90 298.83 L254.40 298.15 L254.90 297.45 L255.40 296.77 L255.90 296.35 L256.40 295.83 L256.90 295.05 L257.40 294.38 L257.90 293.79 L258.40 293.21 L258.90 292.78 L259.40 292.21 L259.90 291.51 L260.40 291.07 L260.90 290.73 L261.40 290.23 L261.90 289.55 L262.40 288.76 L262.90 288.05 L263.40 287.60 L263.90 287.50 L264.40 287.38 L264.90 286.99 L265.40 286.53 L265.90 285.87 L266.40 285.09 L266.90 284.90 L267.40 285.11 L267.90 285.40 L268.40 285.42 L268.90 285.13 L269.40 285.10 L269.90 285.15 L270.40 285.02 L270.90 284.91 L271.40 284.94 L271.90 284.82 L272.40 284.60 L272.90 284.48 L273.40 284.30 L273.90 284.16 L274.40 283.94 L274.90 283.42 L275.40 283.09 L275.90 282.94 L276.40 282.60 L276.90 282.36 L277.40 282.28 L277.90 282.25 L278.40 282.16 L278.90 282.30 L279.40 282.62 L279.90 282.60 L280.40 282.33 L280.90 282.48 L281.40 282.43 L281.90 281.98 L282.40 281.83 L282.90 281.95 L283.40 281.93 L283.90 281.93 L284.40 281.91 L284.90 281.72 L285.40 281.65 L285.90 281.69 L286.40 281.76 L286.90 281.84 L287.40 281.70 L287.90 281.21 L288.40 280.97 L288.90 280.96 L289.40 280.63 L289.90 280.08 L290.40 279.72 L290.90 279.52 L291.40 279.20 L291.90 278.81 L292.40 278.51 L292.90 278.35 L293.40 278.12 L293.90 277.69 L294.40 277.46 L294.90 277.28 L295.40 276.89 L295.90 276.56 L296.40 276.32 L296.90 276.15 L297.40 276.03 L297.90 275.81 L298.40 275.70 L298.90 275.55 L299.40 275.44 L299.90 275.55 L300.40 275.63 L300.90 275.67 L301.40 275.87 L301.90 276.15 L302.40 276.45 L302.90 276.53 L303.40 276.39 L303.90 276.53 L304.40 276.90 L304.90 276.91 L305.40 276.82 L305.90 277.16 L306.40 277.51 L306.90 277.66 L307.40 277.60 L307.90 277.60 L308.40 277.94 L308.90 278.25 L309.40 278.11 L309.90 278.03 L310.40 278.29 L310.90 278.37 L311.40 278.28 L311.90 277.95 L312.40 277.57 L312.90 277.33 L313.40 277.15 L313.90 276.98 L314.40 276.78 L314.90 276.38 L315.40 275.98 L315.90 275.89 L316.40 275.88 L316.90 275.60 L317.40 275.21 L317.90 275.08 L318.40 275.08 L318.90 275.07 L319.40 274.88 L319.90 274.46 L320.40 274.32 L320.90 274.49 L321.40 274.52 L321.90 274.08 L322.40 273.51 L322.90 273.71 L323.40 274.27 L323.90 275.17 L324.40 275.94 L324.90 276.43 L325.40 277.07 L325.90 277.72 L326.40 278.24 L326.90 278.85 L327.40 279.42 L327.90 279.92 L328.40 279.69 L328.90 278.83 L329.40 278.04 L329.90 277.53 L330.40 276.89 L330.90 276.12 L331.40 275.49 L331.90 274.70 L332.40 273.75 L332.90 273.06 L333.40 272.40 L333.90 271.73 L334.40 271.13 L334.90 270.41 L335.40 269.77 L335.90 269.25 L336.40 268.73 L336.90 268.49 L337.40 268.17 L337.90 267.55 L338.40 266.93 L338.90 266.50 L339.40 266.30 L339.90 266.15 L340.40 265.67 L340.90 265.00 L341.40 264.64 L341.90 264.40 L342.40 263.99 L342.90 263.70 L343.40 263.52 L343.90 263.56 L344.40 263.50 L344.90 263.13 L345.40 262.79 L345.90 262.67 L346.40 262.63 L346.90 262.49 L347.40 262.29 L347.90 262.12 L348.40 262.13 L348.90 261.74 L349.40 260.56 L349.90 259.59 L350.40 258.90 L350.90 257.20 L351.40 254.91 L351.90 257.53 L352.40 259.32 L352.90 259.88 L353.40 260.54 L353.90 261.01 L354.40 261.38 L354.90 261.61 L355.40 261.85 L355.90 262.11 L356.40 262.38 L356.90 262.59 L357.40 262.60 L357.90 262.78 L358.40 263.20 L358.90 263.44 L359.40 263.65 L359.90 263.88 L360.40 264.04 L360.90 264.37 L361.40 264.52 L361.90 264.51 L362.40 264.84 L362.90 265.20 L363.40 265.03 L363.90 265.03 L364.40 266.00 L364.90 266.72 L365.40 267.28 L365.90 268.11 L366.40 268.84 L366.90 269.65 L367.40 270.45 L367.90 270.67 L368.40 270.80 L368.90 270.87 L369.40 271.00 L369.90 271.14 L370.40 271.43 L370.90 271.79 L371.40 271.70 L371.90 271.57 L372.40 271.71 L372.90 271.87 L373.40 272.07 L373.90 272.27 L374.40 272.39 L374.90 272.45 L375.40 272.55 L375.90 272.83 L376.40 272.99 L376.90 272.94 L377.40 273.02 L377.90 273.01 L378.40 272.94 L378.90 272.61 L379.40 272.13 L379.90 271.73 L380.40 271.34 L380.90 271.13 L381.40 271.13 L381.90 271.08 L382.40 270.83 L382.90 270.52 L383.40 270.39 L383.90 270.54 L384.40 270.64 L384.90 270.67 L385.40 270.72 L385.90 270.78 L386.40 270.83 L386.90 270.75 L387.40 271.25 L387.90 271.83 L388.40 272.33 L388.90 273.02 L389.40 273.81 L389.90 274.16 L390.40 274.58 L390.90 275.42 L391.40 276.08 L391.90 276.37 L392.40 276.62 L392.90 276.91 L393.40 277.17 L393.90 277.61 L394.40 278.15 L394.90 278.40 L395.40 278.61 L395.90 279.17 L396.40 279.76 L396.90 279.78 L397.40 279.63 L397.90 279.72 L398.40 279.96 L398.90 279.96 L399.40 279.89 L399.90 280.10 L400.40 280.18 L400.90 280.13 L401.40 280.33 L401.90 280.72 L402.40 280.94 L402.90 280.89 L403.40 280.82 L403.90 280.84 L404.40 281.07 L404.90 281.15 L405.40 280.99 L405.90 281.17 L406.40 281.36 L406.90 281.27 L407.40 281.47 L407.90 281.65 L408.40 281.57 L408.90 281.78 L409.40 282.27 L409.90 282.52 L410.40 282.68 L410.90 283.07 L411.40 283.46 L411.90 283.78 L412.40 284.03 L412.90 284.16 L413.40 284.19 L413.90 284.10 L414.40 284.19 L414.90 284.50 L415.40 284.90 L415.90 285.12 L416.40 285.07 L416.90 285.18 L417.40 285.29 L417.90 285.59 L418.40 286.11 L418.90 286.43 L419.40 286.51 L419.90 286.33 L420.40 285.82 L420.90 285.75 L421.40 286.05 L421.90 285.84 L422.40 285.61 L422.90 285.73 L423.40 285.66 L423.90 285.45 L424.40 285.42 L424.90 285.45 L425.40 285.52 L425.90 285.73 L426.40 285.80 L426.90 285.97 L427.40 286.29 L427.90 286.58 L428.40 286.76 L428.90 286.81 L429.40 286.83 L429.90 287.08 L430.40 287.38 L430.90 287.45 L431.40 287.57 L431.90 287.88 L432.40 288.32 L432.90 288.60 L433.40 288.67 L433.90 288.88 L434.40 289.30 L434.90 289.84 L435.40 290.01 L435.90 290.05 L436.40 290.56 L436.90 291.27 L437.40 291.74 L437.90 291.86 L438.40 291.86 L438.90 292.24 L439.40 292.69 L439.90 292.83 L440.40 293.00 L440.90 293.27 L441.40 293.72 L441.90 294.38 L442.40 294.81 L442.90 295.09 L443.40 295.48 L443.90 295.95 L444.40 296.28 L444.90 296.40 L445.40 296.52 L445.90 296.90 L446.40 297.40 L446.90 297.58 L447.40 297.80 L447.90 298.45 L448.40 299.17 L448.90 299.84 L449.40 300.30 L449.90 300.54 L450.40 300.94 L450.90 301.45 L451.40 301.94 L451.90 302.60 L452.40 303.25 L452.90 303.61 L453.40 303.85 L453.90 304.73 L454.40 305.72 L454.90 306.44 L455.40 307.27 L455.90 308.06 L456.40 308.60 L456.90 309.25 L457.40 310.05 L457.90 310.78 L458.40 311.57 L458.90 312.35 L459.40 313.03 L459.90 313.88 L460.40 314.82 L460.90 315.74 L461.40 316.78 L461.90 317.69 L462.40 318.57 L462.90 319.71 L463.40 320.80 L463.90 321.63 L464.40 322.58 L464.90 323.69 L465.40 324.67 L465.90 325.40 L466.40 325.99 L466.90 326.59 L467.40 327.38 L467.90 328.34 L468.40 329.31 L468.90 329.94 L473.75 332.50 L477.00 333.50 L499.00 333.50 L500.00 332.60 L502.00 332.60 L503.00 333.50 L520.50 333.50 L521.50 332.60 L524.50 332.60 L525.50 333.50 L551.00 333.50 L552.00 332.60 L554.00 332.60 L555.00 333.50 L558.00 333.50 L559.00 332.60 L561.00 332.60 L562.00 333.50 L576.00 333.50" stroke="#0000ff" stroke-width="5.5" stroke-linecap="round"/>
</g>
<rect x="79.945" y="334" width="1.11" height="4.5" fill="#000"/>
<rect x="162.945" y="334" width="1.11" height="4.5" fill="#000"/>
<rect x="244.945" y="334" width="1.11" height="4.5" fill="#000"/>
<rect x="327.945" y="334" width="1.11" height="4.5" fill="#000"/>
<rect x="410.945" y="334" width="1.11" height="4.5" fill="#000"/>
<rect x="492.945" y="334" width="1.11" height="4.5" fill="#000"/>
<rect x="575.945" y="334" width="1.11" height="4.5" fill="#000"/>
<rect x="75.5" y="272.945" width="4.5" height="1.11" fill="#000"/>
<rect x="75.5" y="302.945" width="4.5" height="1.11" fill="#000"/>
<rect x="75.5" y="332.945" width="4.5" height="1.11" fill="#000"/>
<rect x="80" y="246.945" width="497" height="1.11" fill="#000"/>
<rect x="80" y="332.945" width="497" height="1.11" fill="#000"/>
<rect x="79.945" y="247" width="1.11" height="87" fill="#000"/>
<rect x="575.945" y="247" width="1.11" height="87" fill="#000"/>
</g>
<g>
<rect x="162.945" y="342" width="1.11" height="85" fill="#b0b0b0"/>
<rect x="244.945" y="342" width="1.11" height="85" fill="#b0b0b0"/>
<rect x="327.945" y="342" width="1.11" height="85" fill="#b0b0b0"/>
<rect x="410.945" y="342" width="1.11" height="85" fill="#b0b0b0"/>
<rect x="492.945" y="342" width="1.11" height="85" fill="#b0b0b0"/>
<rect x="81" y="343.945" width="495" height="1.11" fill="#b0b0b0"/>
<rect x="81" y="385.945" width="495" height="1.11" fill="#b0b0b0"/>
<g clip-path="url(#c3)" fill="none" stroke-linejoin="round">
<path d="M222.00 427.46 L223.00 427.44 L224.00 427.42 L225.00 427.40 L226.00 427.37 L227.00 427.34 L228.00 427.31 L229.00 427.27 L230.00 427.23 L231.00 427.17 L232.00 427.10 L233.00 427.02 L234.00 426.93 L235.00 426.83 L236.00 426.71 L237.00 426.57 L238.00 426.42 L239.00 426.24 L240.00 426.06 L241.00 425.87 L242.00 425.66 L243.00 425.45 L244.00 425.20 L245.00 424.93 L246.00 424.65 L247.00 424.34 L248.00 424.02 L249.00 423.70 L250.00 423.37 L251.00 423.03 L252.00 422.68 L253.00 422.31 L254.00 421.94 L255.00 421.54 L256.00 421.13 L257.00 420.69 L258.00 420.24 L259.00 419.75 L260.00 419.23 L261.00 418.67 L262.00 418.07 L263.00 417.44 L264.00 416.78 L265.00 416.10 L266.00 415.41 L267.00 414.69 L268.00 413.97 L269.00 413.24 L270.00 412.47 L271.00 411.68 L272.00 410.86 L273.00 410.02 L274.00 409.16 L275.00 408.27 L276.00 407.37 L277.00 406.44 L278.00 405.48 L279.00 404.49 L280.00 403.46 L281.00 402.41 L282.00 401.33 L283.00 400.24 L284.00 399.15 L285.00 398.04 L286.00 396.95 L287.00 395.83 L288.00 394.69 L289.00 393.54 L290.00 392.38 L291.00 391.22 L292.00 390.05 L293.00 388.90 L294.00 387.76 L295.00 386.63 L296.00 385.51 L297.00 384.39 L298.00 383.28 L299.00 382.18 L300.00 381.08 L301.00 380.01 L302.00 378.95 L303.00 377.91 L304.00 376.88 L305.00 375.86 L306.00 374.86 L307.00 373.87 L308.00 372.89 L309.00 371.93 L310.00 370.99 L311.00 370.05 L312.00 369.14 L313.00 368.22 L314.00 367.31 L315.00 366.41 L316.00 365.52 L317.00 364.66 L318.00 363.83 L319.00 363.03 L320.00 362.28 L321.00 361.58 L322.00 360.89 L323.00 360.22 L324.00 359.57 L325.00 358.94 L326.00 358.35 L327.00 357.80 L328.00 357.30 L329.00 356.86 L330.00 356.49 L331.00 356.15 L332.00 355.83 L333.00 355.53 L334.00 355.26 L335.00 355.01 L336.00 354.79 L337.00 354.60 L338.00 354.45 L339.00 354.33 L340.00 354.24 L341.00 354.15 L342.00 354.05 L343.00 353.97 L344.00 353.90 L345.00 353.84 L346.00 353.81 L347.00 353.79 L348.00 353.81 L349.00 353.87 L350.00 353.97 L351.00 354.11 L352.00 354.29 L353.00 354.49 L354.00 354.71 L355.00 354.93 L356.00 355.16 L357.00 355.39 L358.00 355.61 L359.00 355.85 L360.00 356.13 L361.00 356.43 L362.00 356.75 L363.00 357.10 L364.00 357.47 L365.00 357.85 L366.00 358.25 L367.00 358.66 L368.00 359.10 L369.00 359.60 L370.00 360.13 L371.00 360.70 L372.00 361.30 L373.00 361.93 L374.00 362.58 L375.00 363.24 L376.00 363.91 L377.00 364.60 L378.00 365.33 L379.00 366.10 L380.00 366.91 L381.00 367.73 L382.00 368.58 L383.00 369.44 L384.00 370.32 L385.00 371.19 L386.00 372.07 L387.00 372.97 L388.00 373.89 L389.00 374.83 L390.00 375.78 L391.00 376.75 L392.00 377.72 L393.00 378.70 L394.00 379.68 L395.00 380.65 L396.00 381.62 L397.00 382.60 L398.00 383.58 L399.00 384.57 L400.00 385.58 L401.00 386.62 L402.00 387.68 L403.00 388.79 L404.00 389.91 L405.00 391.05 L406.00 392.19 L407.00 393.32 L408.00 394.42 L409.00 395.49 L410.00 396.52 L411.00 397.54 L412.00 398.55 L413.00 399.54 L414.00 400.52 L415.00 401.49 L416.00 402.45 L417.00 403.40 L418.00 404.34 L419.00 405.27 L420.00 406.20 L421.00 407.13 L422.00 408.05 L423.00 408.96 L424.00 409.86 L425.00 410.73 L426.00 411.59 L427.00 412.41 L428.00 413.21 L429.00 413.99 L430.00 414.77 L431.00 415.53 L432.00 416.27 L433.00 416.99 L434.00 417.69 L435.00 418.35 L436.00 418.98 L437.00 419.57 L438.00 420.12 L439.00 420.65 L440.00 421.16 L441.00 421.65 L442.00 422.11 L443.00 422.56 L444.00 422.99 L445.00 423.39 L446.00 423.78 L447.00 424.15 L448.00 424.50 L449.00 424.83 L450.00 425.15 L451.00 425.44 L452.00 425.72 L453.00 425.98 L454.00 426.22 L455.00 426.44 L456.00 426.65 L457.00 426.84 L458.00 427.00 L459.00 427.15 L460.00 427.29 L461.00 427.39 L462.00 427.45 L463.00 427.47 L464.00 427.49 L465.00 427.50 L466.00 427.50 L467.00 427.50 L468.00 427.50 L469.00 427.50 L470.00 427.50 L471.00 427.50 L472.00 427.50 L473.00 427.50 L474.00 427.50 L475.00 427.50 L476.00 427.50" stroke="#ff0000" stroke-width="2.78" stroke-linecap="butt"/>
<path d="M80.00 427.50 L81.00 427.50 L82.00 427.50 L83.00 427.50 L84.00 427.50 L85.00 427.50 L86.00 427.50 L87.00 427.50 L88.00 427.50 L89.00 427.50 L90.00 427.50 L91.00 427.50 L92.00 427.50 L93.00 427.50 L94.00 427.50 L95.00 427.50 L96.00 427.50 L97.00 427.50 L98.00 427.50 L99.00 427.50 L100.00 427.50 L101.00 427.50 L102.00 427.50 L103.00 427.50 L104.00 427.50 L105.00 427.50 L106.00 427.50 L107.00 427.50 L108.00 427.50 L109.00 427.50 L110.00 427.50 L111.00 427.50 L112.00 427.50 L113.00 427.50 L114.00 427.50 L115.00 427.50 L116.00 427.50 L117.00 427.50 L118.00 427.50 L119.00 427.50 L120.00 427.50 L121.00 427.50 L122.00 427.50 L123.00 427.50 L124.00 427.50 L125.00 427.50 L126.00 427.50 L127.00 427.50 L128.00 427.50 L129.00 427.50 L130.00 427.50 L131.00 427.50 L132.00 427.50 L133.00 427.50 L134.00 427.50 L135.00 427.50 L136.00 427.50 L137.00 427.50 L138.00 427.50 L139.00 427.50 L140.00 427.50 L141.00 427.50 L142.00 427.50 L143.00 427.50 L144.00 427.50 L145.00 427.50 L146.00 427.50 L147.00 427.50 L148.00 427.50 L149.00 427.50 L150.00 427.50 L151.00 427.50 L152.00 427.50 L153.00 427.50 L154.00 427.50 L155.00 427.50 L156.00 427.50 L157.00 427.50 L158.00 427.50 L159.00 427.50 L160.00 427.50 L161.00 427.50 L162.00 427.50 L163.00 427.50 L164.00 427.50 L165.00 427.50 L166.00 427.50 L167.00 427.50 L168.00 427.50 L169.00 427.50 L170.00 427.50 L171.00 427.50 L172.00 427.50 L173.00 427.50 L174.00 427.50 L175.00 427.50 L176.00 427.50 L177.00 427.50 L178.00 427.50 L179.00 427.50 L180.00 427.50 L181.00 427.50 L182.00 427.50 L183.00 427.50 L184.00 427.50 L185.00 427.50 L186.00 427.50 L187.00 427.50 L188.00 427.50 L189.00 427.50 L190.00 427.50 L191.00 427.50 L192.00 427.50 L193.00 427.50 L194.00 427.50 L195.00 427.50 L196.00 427.50 L197.00 427.50 L198.00 427.50 L199.00 427.50 L200.00 427.50 L201.00 427.50 L202.00 427.50 L203.00 427.50 L204.00 427.50 L205.00 427.50 L206.00 427.50 L207.00 427.50 L208.00 427.50 L209.00 427.50 L210.00 427.50 L211.00 427.50 L212.00 427.50 L213.00 427.50 L214.00 427.50 L215.00 427.50 L216.00 427.50 L217.00 427.50 L218.00 427.50 L219.00 427.50 L220.00 427.49 L221.00 427.48 L222.00 427.46 L223.00 427.44 L224.00 427.42 L225.00 427.40 L226.00 427.37 L227.00 427.34 L228.00 427.31 L229.00 427.27 L230.00 427.23 L231.00 427.17 L232.00 427.10 L233.00 427.02 L234.00 426.93 L235.00 426.83 L236.00 426.71 L237.00 426.57 L238.00 426.42 L239.00 426.24 L240.00 426.06 L241.00 425.87 L242.00 425.66 L243.00 425.45 L244.00 425.20 L245.00 424.93 L246.00 424.65 L247.00 424.34 L248.00 424.02 L249.00 423.70 L250.00 423.37 L251.00 423.03 L252.00 422.68 L253.00 422.31 L254.00 421.94 L255.00 421.54 L256.00 421.13 L257.00 420.69 L258.00 420.23 L259.00 419.75 L260.00 419.23 L261.00 418.67 L262.00 418.07 L263.00 417.44 L264.00 416.78 L265.00 416.10 L266.00 415.40 L267.00 414.69 L268.00 413.97 L269.00 413.23 L270.00 412.46 L271.00 411.67 L272.00 410.85 L273.00 410.01 L274.00 409.15 L275.00 408.26 L276.00 407.35 L277.00 406.43 L278.00 405.47 L279.00 404.47 L280.00 403.44 L281.00 402.38 L282.00 401.30 L283.00 400.21 L284.00 399.10 L285.00 398.00 L286.00 396.89 L287.00 395.77 L288.00 394.62 L289.00 393.46 L290.00 392.29 L291.00 391.12 L292.00 389.94 L293.00 388.77 L294.00 387.62 L295.00 386.47 L296.00 385.34 L297.00 384.20 L298.00 383.06 L299.00 381.93 L300.00 380.82 L301.00 379.71 L302.00 378.62 L303.00 377.55 L304.00 376.49 L305.00 375.43 L306.00 374.39 L307.00 373.35 L308.00 372.33 L309.00 371.32 L310.00 370.32 L311.00 369.33 L312.00 368.35 L313.00 367.37 L314.00 366.39 L315.00 365.42 L316.00 364.46 L317.00 363.52 L318.00 362.60 L319.00 361.72 L320.00 360.88 L321.00 360.09 L322.00 359.31 L323.00 358.54 L324.00 357.79 L325.00 357.06 L326.00 356.36 L327.00 355.71 L328.00 355.10 L329.00 354.55 L330.00 354.06 L331.00 353.62 L332.00 353.18 L333.00 352.77 L334.00 352.39 L335.00 352.03 L336.00 351.70 L337.00 351.41 L338.00 351.15 L339.00 350.93 L340.00 350.74 L341.00 350.55 L342.00 350.37 L343.00 350.20 L344.00 350.05 L345.00 349.92 L346.00 349.81 L347.00 349.74 L348.00 349.70 L349.00 349.71 L350.00 349.77 L351.00 349.88 L352.00 350.02 L353.00 350.20 L354.00 350.41 L355.00 350.63 L356.00 350.87 L357.00 351.11 L358.00 351.34 L359.00 351.62 L360.00 351.92 L361.00 352.27 L362.00 352.64 L363.00 353.05 L364.00 353.48 L365.00 353.93 L366.00 354.40 L367.00 354.89 L368.00 355.42 L369.00 356.00 L370.00 356.63 L371.00 357.30 L372.00 358.01 L373.00 358.74 L374.00 359.49 L375.00 360.26 L376.00 361.04 L377.00 361.84 L378.00 362.69 L379.00 363.57 L380.00 364.48 L381.00 365.42 L382.00 366.38 L383.00 367.35 L384.00 368.33 L385.00 369.31 L386.00 370.29 L387.00 371.29 L388.00 372.31 L389.00 373.34 L390.00 374.39 L391.00 375.44 L392.00 376.50 L393.00 377.56 L394.00 378.61 L395.00 379.66 L396.00 380.70 L397.00 381.75 L398.00 382.79 L399.00 383.85 L400.00 384.91 L401.00 386.00 L402.00 387.12 L403.00 388.27 L404.00 389.44 L405.00 390.62 L406.00 391.80 L407.00 392.96 L408.00 394.09 L409.00 395.19 L410.00 396.26 L411.00 397.30 L412.00 398.33 L413.00 399.35 L414.00 400.35 L415.00 401.34 L416.00 402.31 L417.00 403.27 L418.00 404.23 L419.00 405.17 L420.00 406.11 L421.00 407.05 L422.00 407.98 L423.00 408.90 L424.00 409.80 L425.00 410.69 L426.00 411.54 L427.00 412.38 L428.00 413.18 L429.00 413.96 L430.00 414.74 L431.00 415.51 L432.00 416.25 L433.00 416.98 L434.00 417.67 L435.00 418.34 L436.00 418.97 L437.00 419.56 L438.00 420.11 L439.00 420.64 L440.00 421.15 L441.00 421.64 L442.00 422.11 L443.00 422.56 L444.00 422.98 L445.00 423.39 L446.00 423.78 L447.00 424.14 L448.00 424.49 L449.00 424.83 L450.00 425.14 L451.00 425.44 L452.00 425.72 L453.00 425.98 L454.00 426.22 L455.00 426.44 L456.00 426.65 L457.00 426.84 L458.00 427.00 L459.00 427.15 L460.00 427.29 L461.00 427.39 L462.00 427.45 L463.00 427.47 L464.00 427.49 L465.00 427.50 L466.00 427.50 L467.00 427.50 L468.00 427.50 L469.00 427.50 L470.00 427.50 L471.00 427.50 L472.00 427.50 L473.00 427.50 L474.00 427.50 L475.00 427.50 L476.00 427.50 L477.00 427.50 L478.00 427.50 L479.00 427.50 L480.00 427.50 L481.00 427.50 L482.00 427.50 L483.00 427.50 L484.00 427.50 L485.00 427.50 L486.00 427.50 L487.00 427.50 L488.00 427.50 L489.00 427.50 L490.00 427.50 L491.00 427.50 L492.00 427.50 L493.00 427.50 L494.00 427.50 L495.00 427.50 L496.00 427.50 L497.00 427.50 L498.00 427.50 L499.00 427.50 L500.00 427.50 L501.00 427.50 L502.00 427.50 L503.00 427.50 L504.00 427.50 L505.00 427.50 L506.00 427.50 L507.00 427.50 L508.00 427.50 L509.00 427.50 L510.00 427.50 L511.00 427.50 L512.00 427.50 L513.00 427.50 L514.00 427.50 L515.00 427.50 L516.00 427.50 L517.00 427.50 L518.00 427.50 L519.00 427.50 L520.00 427.50 L521.00 427.50 L522.00 427.50 L523.00 427.50 L524.00 427.50 L525.00 427.50 L526.00 427.50 L527.00 427.50 L528.00 427.50 L529.00 427.50 L530.00 427.50 L531.00 427.50 L532.00 427.50 L533.00 427.50 L534.00 427.50 L535.00 427.50 L536.00 427.50 L537.00 427.50 L538.00 427.50 L539.00 427.50 L540.00 427.50 L541.00 427.50 L542.00 427.50 L543.00 427.50 L544.00 427.50 L545.00 427.50 L546.00 427.50 L547.00 427.50 L548.00 427.50 L549.00 427.50 L550.00 427.50 L551.00 427.50 L552.00 427.50 L553.00 427.50 L554.00 427.50 L555.00 427.50 L556.00 427.50 L557.00 427.50 L558.00 427.50 L559.00 427.50 L560.00 427.50 L561.00 427.50 L562.00 427.50 L563.00 427.50 L564.00 427.50 L565.00 427.50 L566.00 427.50 L567.00 427.50 L568.00 427.50 L569.00 427.50 L570.00 427.50 L571.00 427.50 L572.00 427.50 L573.00 427.50 L574.00 427.50 L575.00 427.50 L576.00 427.50" stroke="#0000ff" stroke-width="5.5" stroke-linecap="round"/>
</g>
<rect x="79.945" y="428" width="1.11" height="4.5" fill="#000"/>
<rect x="162.945" y="428" width="1.11" height="4.5" fill="#000"/>
<rect x="244.945" y="428" width="1.11" height="4.5" fill="#000"/>
<rect x="327.945" y="428" width="1.11" height="4.5" fill="#000"/>
<rect x="410.945" y="428" width="1.11" height="4.5" fill="#000"/>
<rect x="492.945" y="428" width="1.11" height="4.5" fill="#000"/>
<rect x="575.945" y="428" width="1.11" height="4.5" fill="#000"/>
<rect x="75.5" y="343.945" width="4.5" height="1.11" fill="#000"/>
<rect x="75.5" y="385.945" width="4.5" height="1.11" fill="#000"/>
<rect x="75.5" y="426.945" width="4.5" height="1.11" fill="#000"/>
<rect x="80" y="340.945" width="497" height="1.11" fill="#000"/>
<rect x="80" y="426.945" width="497" height="1.11" fill="#000"/>
<rect x="79.945" y="341" width="1.11" height="87" fill="#000"/>
<rect x="575.945" y="341" width="1.11" height="87" fill="#000"/>
</g>
<g filter="url(#gs)">
<text transform="translate(35.15,65.5) scale(1.1195,1)" x="0.05 7.91 15.73 23.55" y="0" font-size="14.1" fill="#0c0c0c">1000</text>
<text transform="translate(44.03,107.5) scale(1.1156,1)" x="0.00 7.84 15.69" y="0" font-size="14.1" fill="#0c0c0c">500</text>
<text transform="translate(61.53,148.5) scale(1.1161,1)" x="-0.00" y="0" font-size="14.1" fill="#0c0c0c">0</text>
<text transform="translate(35.15,164.5) scale(1.1195,1)" x="0.05 7.91 15.73 23.55" y="0" font-size="14.1" fill="#0c0c0c">1000</text>
<text transform="translate(44.03,203.5) scale(1.1156,1)" x="0.00 7.84 15.69" y="0" font-size="14.1" fill="#0c0c0c">500</text>
<text transform="translate(61.53,243.5) scale(1.1161,1)" x="-0.00" y="0" font-size="14.1" fill="#0c0c0c">0</text>
<text transform="translate(43.90,278.5) scale(1.1211,1)" x="0.04 7.90 15.70" y="0" font-size="14.1" fill="#0c0c0c">100</text>
<text transform="translate(52.78,308.5) scale(1.1161,1)" x="-0.00 7.84" y="0" font-size="14.1" fill="#0c0c0c">50</text>
<text transform="translate(61.53,337.5) scale(1.1161,1)" x="-0.00" y="0" font-size="14.1" fill="#0c0c0c">0</text>
<text transform="translate(61.53,348.5) scale(1.1161,1)" x="-0.00" y="0" font-size="14.1" fill="#0c0c0c">2</text>
<text transform="translate(61.40,390.5) scale(1.1327,1)" x="-0.00" y="0" font-size="14.1" fill="#0c0c0c">1</text>
<text transform="translate(61.53,432.5) scale(1.1161,1)" x="-0.00" y="0" font-size="14.1" fill="#0c0c0c">0</text>
<text transform="translate(75.62,447.5) scale(1.1161,1)" x="-0.00" y="0" font-size="14.1" fill="#0c0c0c">0</text>
<text transform="translate(158.29,447.5) scale(1.1161,1)" x="-0.00" y="0" font-size="14.1" fill="#0c0c0c">4</text>
<text transform="translate(240.90,447.5) scale(1.1327,1)" x="-0.00" y="0" font-size="14.1" fill="#0c0c0c">8</text>
<text transform="translate(319.19,447.5) scale(1.1237,1)" x="0.03 7.87" y="0" font-size="14.1" fill="#0c0c0c">12</text>
<text transform="translate(401.79,447.5) scale(1.1320,1)" x="0.00 7.84" y="0" font-size="14.1" fill="#0c0c0c">16</text>
<text transform="translate(484.58,447.5) scale(1.1161,1)" x="-0.00 7.84" y="0" font-size="14.1" fill="#0c0c0c">20</text>
<text transform="translate(567.25,447.5) scale(1.1161,1)" x="-0.00 7.84" y="0" font-size="14.1" fill="#0c0c0c">24</text>
<text transform="translate(289.88,467.5) scale(1.0467,1)" x="-0.13 10.06 18.29 26.79 32.02 36.35 41.07 50.75 58.33 67.94" y="0" font-size="14.1" fill="#0c0c0c">Hour (UTC)</text>
<text transform="translate(288.06,48.5) scale(1.1074,1)" x="0.03 7.93 15.83 23.73 31.46 36.09 44.05 51.78 56.35 64.25" y="0" font-size="14.1" fill="#0c0c0c">2025-10-04</text>
<text transform="translate(96.53,71.5) scale(1.1560,1)" x="-0.56 9.88 13.69 22.13 30.90 38.97 43.07 46.70 56.63 64.62 73.24 77.39 85.94 91.20 95.01 103.44" y="0" font-size="14.1" font-weight="bold" fill="#ffa500">Global Radiation</text>
<text transform="translate(96.53,167.5) scale(1.1769,1)" x="-0.21 9.78 13.88 19.66 27.20 35.09 40.37 43.87 53.64 61.49 70.00 74.04 82.46 87.63 91.34 99.62" y="0" font-size="14.1" font-weight="bold" fill="#ffa500">Direct Radiation</text>
<text transform="translate(96.53,263.5) scale(1.1697,1)" x="-0.18 9.85 14.00 19.13 23.96 32.09 39.68 47.78 51.33 61.16 69.06 77.60 81.68 90.14 95.34 99.08 107.41" y="0" font-size="14.1" font-weight="bold" fill="#ffa500">Diffuse Radiation</text>
<text transform="translate(96.53,359.5) scale(1.1489,1)" x="-0.20 9.77 18.68 28.56 32.23 42.21 50.25 58.91 63.10 71.69 76.98 80.83 89.31" y="0" font-size="14.1" font-weight="bold" fill="#ffa500">UVB Radiation</text>
<g transform="translate(23.9,126.75) rotate(-90)">
<text transform="translate(0.00,0) scale(1.1365,1)" x="0.46 4.23 17.02 21.08" y="0" font-size="14.1" fill="#0c0c0c">[W/m</text>
<text transform="translate(37.70,-4.5) scale(1.0702,1)" x="0.00" y="0" font-size="10.5" fill="#0c0c0c">2</text>
<text transform="translate(45.10,0) scale(1.4031,1)" x="0.00" y="0" font-size="14.1" fill="#0c0c0c">]</text>
</g>
<g transform="translate(23.9,220.75) rotate(-90)">
<text transform="translate(0.00,0) scale(1.1365,1)" x="0.46 4.23 17.02 21.08" y="0" font-size="14.1" fill="#0c0c0c">[W/m</text>
<text transform="translate(37.70,-4.5) scale(1.0702,1)" x="0.00" y="0" font-size="10.5" fill="#0c0c0c">2</text>
<text transform="translate(45.10,0) scale(1.4031,1)" x="0.00" y="0" font-size="14.1" fill="#0c0c0c">]</text>
</g>
<g transform="translate(31.9,315.75) rotate(-90)">
<text transform="translate(0.00,0) scale(1.1365,1)" x="0.46 4.23 17.02 21.08" y="0" font-size="14.1" fill="#0c0c0c">[W/m</text>
<text transform="translate(37.70,-4.5) scale(1.0702,1)" x="0.00" y="0" font-size="10.5" fill="#0c0c0c">2</text>
<text transform="translate(45.10,0) scale(1.4031,1)" x="0.00" y="0" font-size="14.1" fill="#0c0c0c">]</text>
</g>
<g transform="translate(49.9,409.75) rotate(-90)">
<text transform="translate(0.00,0) scale(1.1365,1)" x="0.46 4.23 17.02 21.08" y="0" font-size="14.1" fill="#0c0c0c">[W/m</text>
<text transform="translate(37.70,-4.5) scale(1.0702,1)" x="0.00" y="0" font-size="10.5" fill="#0c0c0c">2</text>
<text transform="translate(45.10,0) scale(1.4031,1)" x="0.00" y="0" font-size="14.1" fill="#0c0c0c">]</text>
</g>
</g>
<g>
<rect x="417.655" y="82.23" width="154.875" height="42.25" rx="2.5" fill="#4d4d4d" fill-opacity="0.5" stroke="#4d4d4d" stroke-opacity="0.5" stroke-width="1.39"/>
<rect x="415.5" y="79.5" width="155" height="43" rx="2.5" fill="#fff" stroke="#cccccc" stroke-width="1.39"/>
<rect x="419.1" y="89.1" width="27.8" height="2.78" fill="#ff0000"/>
<circle cx="432.5" cy="109.5" r="2.55" fill="#0000ff"/>
<g filter="url(#gs)">
<text transform="translate(454.88,93.5) scale(1.0961,1)" x="-0.34 6.57 9.64 16.17 24.63 31.70 39.35 43.56 48.02 55.15 62.33 65.53 75.67 82.80 89.99 97.24" y="0" font-size="12.7" fill="#0c0c0c">LibRadtran Model</text>
<text transform="translate(454.88,113.5) scale(0.9779,1)" x="0.17 8.55 16.63 25.90" y="0" font-size="12.7" fill="#0c0c0c">BSRN</text>
</g>
</g>
</svg></body></html>
